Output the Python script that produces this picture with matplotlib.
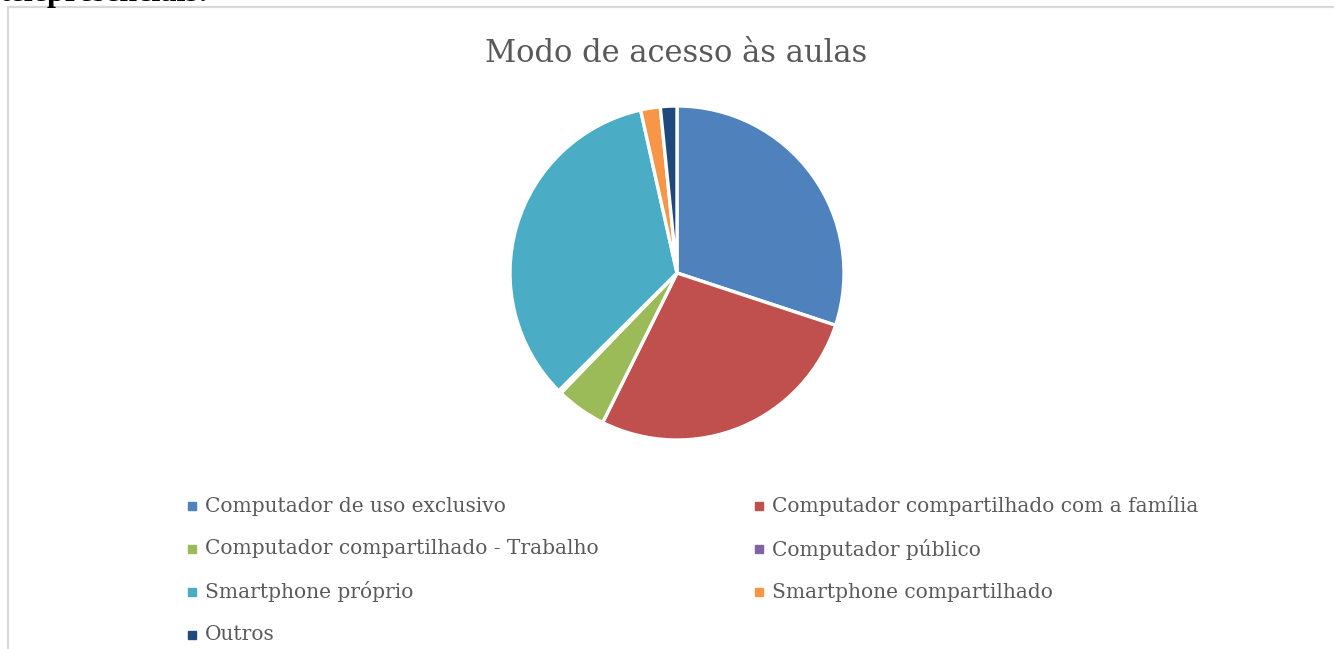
import matplotlib.pyplot as plt
from matplotlib.patches import Rectangle
from matplotlib.lines import Line2D

# data (percent, approx)
labels = ['Computador de uso exclusivo', 'Computador compartilhado com a família',
          'Computador compartilhado - Trabalho', 'Computador público',
          'Smartphone próprio', 'Smartphone compartilhado', 'Outros']
values = [30.1, 27.3, 4.9, 0.3, 34.0, 1.9, 1.6]
colors = ['#4F81BD', '#C0504D', '#9BBB59', '#8064A2', '#4BACC6', '#F79646', '#1F497D']

W, H = 1334, 649
fig = plt.figure(figsize=(W / 100, H / 100), dpi=100)

def fx(px):
    return px / W

def fy(py):
    return 1 - py / H

# chart frame (only top and left visible)
fig.add_artist(Line2D([fx(8), fx(8)], [fy(7), 0], color='#d9d9d9', lw=1.6))
fig.add_artist(Line2D([fx(8), 1], [fy(7), fy(7)], color='#d9d9d9', lw=1.6))

# cut-off heading from the document above
fig.text(fx(0), fy(0.5), 'telepresenciais:', fontsize=23, fontweight='bold',
         family='Liberation Serif', va='baseline', ha='left', color='black')

fig.text(fx(676), fy(53), 'Modo de acesso às aulas', fontsize=22,
         family='DejaVu Serif', color='#595959', ha='center', va='center')

# pie
cx, cy, r = 677, 273, 167
ax = fig.add_axes([fx(cx - r), fy(cy + r), 2 * r / W, 2 * r / H])
ax.pie(values, colors=colors, startangle=90, counterclock=False, radius=1,
       wedgeprops=dict(edgecolor='white', linewidth=2.4))
ax.set_xlim(-1, 1)
ax.set_ylim(-1, 1)
ax.set_aspect('auto')
ax.axis('off')

# legend, two columns in row order
col_x = [192, 759]
row_y = [506, 549, 592, 635]
for i, (lab, c) in enumerate(zip(labels, colors)):
    x = col_x[i % 2]
    y = row_y[i // 2]
    fig.add_artist(Rectangle((fx(x - 4), fy(y + 4)), 8 / W, 8 / H,
                             color=c, transform=fig.transFigure))
    fig.text(fx(x + 13), fy(y), lab, fontsize=14.5, family='DejaVu Serif',
             color='#595959', ha='left', va='center')

fig.savefig('out.png', dpi=100)
